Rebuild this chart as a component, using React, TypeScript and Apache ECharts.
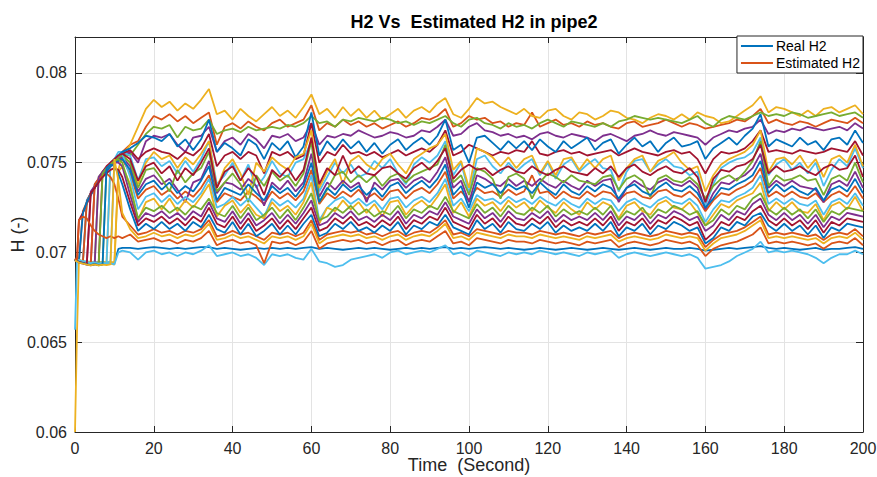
import React, { useEffect, useRef } from "react";
import * as echarts from "echarts";

// time axis (s)
const time = [0, 0.5, 1, 2, 3, 4, 5, 6, 7, 8, 9, 10, 11, 12,
  14, 16, 18, 20, 22, 24, 26, 28, 30, 32, 34, 36, 38, 40, 42, 44, 46, 48, 50, 52,
  54, 56, 58, 60, 62, 64, 66, 68, 70, 72, 74, 76, 78, 80, 82, 84, 86, 88, 90, 92,
  94, 96, 98, 100, 102, 104, 106, 108, 110, 112, 114, 116, 118, 120, 122, 124, 126, 128, 130, 132,
  134, 136, 138, 140, 142, 144, 146, 148, 150, 152, 154, 156, 158, 160, 162, 164, 166, 168, 170, 172,
  174, 176, 178, 180, 182, 184, 186, 188, 190, 192, 194, 196, 198, 200];

// H values in units of 1e-5, lines listed from top level to bottom level
const h01 = [6965,6960,6955,6950,6946,6950,6942,6948,6945,6940,6948,6945,7460,7540,
  7600,7700,7800,7850,7810,7840,7790,7830,7800,7850,
  7910,7770,7790,7740,7800,7760,7730,7770,7810,7760,
  7790,7750,7810,7880,7770,7800,7750,7810,7760,7800,
  7750,7790,7740,7770,7800,7750,7790,7810,7780,7830,
  7860,7770,7750,7800,7860,7830,7840,7810,7790,7770,
  7800,7760,7750,7790,7800,7760,7740,7780,7770,7740,
  7760,7790,7780,7750,7740,7720,7750,7770,7760,7740,
  7770,7740,7780,7760,7750,7720,7730,7760,7790,7820,
  7870,7780,7810,7800,7780,7760,7790,7760,7800,7810,
  7780,7800,7820,7770];
const h02 = [6968,6962,6958,7230,7280,7330,7360,7400,7430,7460,7500,7520,7540,7560,
  7600,7620,7700,7760,7740,7770,7730,7760,7720,7750,
  7780,7600,7700,7720,7690,7730,7700,7680,7720,7740,
  7700,7720,7740,7820,7680,7720,7700,7740,7710,7730,
  7700,7720,7690,7710,7730,7700,7720,7750,7740,7760,
  7800,7700,7720,7760,7740,7750,7720,7730,7700,7720,
  7710,7780,7700,7720,7740,7710,7720,7700,7730,7710,
  7720,7700,7690,7720,7730,7700,7710,7720,7740,7720,
  7700,7720,7710,7690,7700,7710,7720,7740,7730,7760,
  7800,7720,7740,7720,7710,7730,7720,7700,7720,7740,
  7730,7720,7750,7720];
const h03 = [6960,6955,6950,6946,6940,6944,6938,7420,7450,7470,7490,7510,7530,7550,
  7540,7600,7660,7700,7690,7710,7640,7700,7680,7690,
  7740,7660,7680,7690,7670,7700,7680,7690,7700,7690,
  7710,7700,7720,7760,7720,7730,7700,7740,7730,7750,
  7740,7730,7750,7740,7720,7730,7710,7730,7720,7740,
  7760,7720,7700,7740,7750,7720,7710,7690,7720,7700,
  7710,7690,7720,7740,7720,7700,7730,7720,7710,7700,
  7720,7700,7730,7740,7760,7750,7740,7750,7740,7730,
  7720,7740,7760,7720,7700,7740,7760,7750,7740,7760,
  7780,7760,7770,7760,7780,7770,7750,7760,7770,7780,
  7760,7770,7780,7750];
const h04 = [6958,6950,6945,6940,6935,6930,7380,7410,7440,7460,7490,7510,7530,7540,
  7560,7500,7620,7650,7640,7660,7600,7560,7640,7650,
  7700,7560,7620,7640,7600,7660,7630,7580,7650,7640,
  7660,7620,7640,7720,7600,7650,7640,7660,7650,7680,
  7660,7640,7650,7670,7660,7640,7650,7680,7670,7700,
  7740,7650,7660,7700,7720,7680,7670,7650,7660,7640,
  7650,7630,7660,7670,7650,7640,7660,7650,7640,7620,
  7650,7660,7640,7620,7650,7660,7680,7660,7650,7670,
  7660,7650,7640,7600,7640,7660,7680,7670,7690,7700,
  7740,7660,7680,7670,7690,7680,7700,7690,7680,7690,
  7700,7680,7720,7690];
const h05 = [6962,6955,6950,6944,7290,7330,7370,7400,7430,7460,7490,7520,7540,7560,
  7580,7610,7650,7640,7620,7660,7590,7630,7570,7630,
  7740,7560,7610,7580,7540,7630,7600,7520,7610,7570,
  7620,7530,7590,7780,7540,7620,7570,7630,7580,7620,
  7560,7610,7550,7600,7630,7570,7610,7640,7600,7650,
  7740,7570,7600,7500,7640,7650,7610,7570,7620,7580,
  7620,7570,7630,7590,7560,7620,7580,7610,7640,7570,
  7610,7630,7550,7600,7640,7590,7620,7560,7610,7640,
  7590,7600,7620,7520,7580,7610,7640,7600,7650,7690,
  7770,7590,7630,7610,7590,7640,7600,7620,7570,7630,
  7640,7600,7680,7610];
const h06 = [6965,6960,7180,7220,7270,7320,7360,7400,7430,7460,7480,7510,7530,7550,
  7570,7520,7560,7580,7560,7550,7520,7560,7540,7580,
  7660,7480,7540,7560,7520,7560,7540,7440,7560,7540,
  7560,7520,7540,7720,7500,7560,7540,7600,7550,7560,
  7540,7560,7530,7550,7570,7540,7560,7580,7560,7600,
  7680,7540,7560,7600,7580,7560,7540,7560,7550,7570,
  7560,7620,7550,7540,7560,7570,7550,7560,7540,7550,
  7560,7570,7540,7560,7580,7560,7550,7540,7560,7570,
  7550,7560,7520,7440,7520,7560,7550,7560,7580,7620,
  7680,7560,7570,7560,7550,7570,7560,7550,7560,7580,
  7570,7560,7620,7540];
const h07 = [6958,6952,6948,6944,6950,6942,6946,6940,6948,6944,7490,7510,7530,7540,
  7500,7380,7500,7560,7520,7540,7470,7530,7490,7550,
  7620,7360,7470,7520,7440,7320,7500,7450,7530,7490,
  7460,7530,7550,7680,7360,7450,7520,7380,7510,7540,
  7490,7460,7520,7550,7490,7440,7520,7550,7580,7600,
  7660,7460,7510,7360,7580,7560,7530,7480,7530,7470,
  7520,7540,7440,7510,7430,7520,7530,7460,7520,7470,
  7520,7540,7400,7470,7520,7540,7450,7510,7530,7560,
  7500,7460,7480,7340,7430,7490,7520,7540,7560,7600,
  7680,7450,7520,7530,7490,7540,7470,7520,7420,7520,
  7540,7500,7600,7480];
const h08 = [6960,6955,6950,6946,6952,6944,6950,6942,6948,6945,6950,7520,7560,7560,
  7540,7400,7520,7530,7480,7510,7440,7510,7450,7520,
  7620,7380,7430,7500,7400,7490,7360,7420,7510,7440,
  7420,7500,7520,7620,7340,7420,7500,7440,7490,7420,
  7440,7510,7470,7520,7440,7380,7490,7530,7500,7540,
  7620,7430,7500,7330,7520,7540,7480,7440,7500,7450,
  7490,7520,7430,7500,7410,7490,7520,7450,7490,7520,
  7470,7460,7340,7450,7510,7520,7450,7490,7520,7480,
  7470,7430,7450,7260,7380,7470,7500,7520,7530,7560,
  7640,7430,7490,7520,7460,7500,7440,7500,7370,7460,
  7520,7480,7580,7470];
const h09 = [6962,6956,6950,6945,6940,6936,6942,6938,7450,7480,7500,7520,7540,7550,
  7520,7400,7480,7500,7440,7480,7400,7470,7430,7500,
  7580,7360,7450,7480,7400,7470,7420,7320,7460,7420,
  7470,7400,7460,7640,7380,7470,7430,7540,7440,7480,
  7440,7430,7470,7480,7440,7410,7470,7500,7460,7510,
  7580,7410,7460,7490,7460,7470,7430,7460,7480,7450,
  7440,7480,7450,7430,7460,7480,7450,7440,7430,7470,
  7440,7480,7420,7470,7490,7450,7430,7460,7480,7450,
  7440,7470,7420,7280,7410,7460,7450,7480,7490,7520,
  7600,7440,7480,7450,7460,7480,7450,7430,7470,7490,
  7460,7470,7540,7420];
const h10 = [6960,6954,6948,6942,6936,6930,6934,6928,6932,7470,7490,7510,7530,7540,
  7500,7360,7460,7470,7410,7340,7460,7390,7440,7470,
  7560,7340,7390,7440,7380,7280,7430,7370,7450,7400,
  7430,7370,7440,7620,7280,7350,7430,7450,7390,7430,
  7390,7430,7370,7420,7440,7390,7430,7450,7470,7490,
  7600,7390,7430,7320,7470,7450,7410,7300,7420,7440,
  7410,7300,7390,7440,7420,7390,7430,7400,7390,7380,
  7420,7430,7350,7410,7430,7400,7310,7410,7430,7400,
  7390,7420,7380,7300,7370,7410,7430,7400,7450,7510,
  7620,7370,7430,7400,7410,7430,7400,7410,7320,7410,
  7430,7400,7500,7390];
const h11 = [6958,6952,6946,6940,6934,7340,7370,7400,7430,7460,7480,7500,7520,7530,
  7480,7340,7410,7430,7380,7410,7350,7280,7390,7410,
  7510,7330,7390,7380,7350,7410,7370,7260,7390,7350,
  7400,7340,7390,7550,7310,7390,7350,7400,7360,7390,
  7280,7390,7350,7400,7410,7360,7400,7420,7390,7450,
  7530,7360,7400,7280,7430,7410,7380,7370,7410,7370,
  7400,7370,7410,7380,7360,7400,7370,7350,7400,7370,
  7400,7410,7280,7360,7400,7370,7350,7390,7410,7380,
  7370,7400,7360,7240,7330,7390,7380,7410,7430,7470,
  7550,7360,7400,7370,7400,7370,7360,7350,7280,7380,
  7400,7370,7450,7360];
const h12 = [6960,6955,6950,7220,7280,7320,7360,7400,7420,7450,7480,7500,7510,7520,
  7460,7320,7380,7400,7350,7390,7330,7370,7340,7400,
  7480,7290,7360,7340,7320,7380,7330,7290,7370,7330,
  7360,7310,7370,7500,7280,7360,7320,7380,7340,7370,
  7320,7360,7310,7370,7390,7330,7370,7400,7360,7410,
  7490,7320,7370,7250,7390,7360,7380,7330,7380,7350,
  7370,7330,7390,7350,7320,7380,7340,7320,7370,7340,
  7380,7360,7300,7360,7380,7340,7320,7360,7390,7350,
  7340,7370,7330,7250,7300,7360,7350,7380,7400,7430,
  7510,7330,7380,7340,7370,7340,7320,7360,7290,7350,
  7370,7340,7410,7330];
const h13 = [6962,6956,6950,6944,7280,7330,7360,7400,7430,7450,7480,7500,7510,7520,
  7440,7300,7350,7370,7320,7350,7300,7340,7310,7360,
  7430,7280,7330,7310,7290,7340,7310,7270,7340,7300,
  7330,7290,7340,7460,7270,7330,7300,7340,7310,7350,
  7300,7330,7290,7340,7350,7300,7340,7360,7330,7380,
  7450,7300,7340,7290,7360,7330,7340,7310,7350,7320,
  7340,7430,7330,7340,7300,7340,7310,7300,7340,7310,
  7340,7330,7290,7330,7340,7310,7300,7340,7350,7320,
  7310,7340,7300,7230,7290,7330,7320,7350,7370,7400,
  7470,7310,7340,7310,7340,7310,7300,7330,7280,7320,
  7340,7310,7370,7300];
const h14 = [6958,6952,6946,6940,6946,6938,6944,6936,6942,6938,7500,7520,7540,7550,
  7420,7240,7310,7330,7280,7320,7270,7310,7280,7330,
  7410,7250,7270,7310,7260,7300,7250,7200,7300,7260,
  7290,7250,7300,7430,7180,7250,7290,7310,7270,7300,
  7260,7290,7240,7300,7310,7250,7290,7310,7280,7330,
  7410,7260,7300,7230,7320,7290,7300,7270,7310,7280,
  7300,7270,7310,7280,7260,7300,7270,7250,7300,7270,
  7300,7290,7230,7280,7300,7270,7250,7290,7310,7280,
  7270,7300,7260,7170,7240,7290,7280,7310,7330,7360,
  7430,7270,7300,7270,7300,7270,7260,7290,7210,7280,
  7300,7270,7330,7260];
const h15 = [6000,6550,6960,6950,6944,6938,6944,6936,6940,6934,6938,6932,7450,7480,
  7380,7180,7280,7300,7240,7300,7230,7290,7250,7310,
  7380,7200,7260,7290,7220,7270,7210,7190,7280,7230,
  7260,7210,7280,7390,7160,7250,7230,7290,7240,7280,
  7220,7270,7200,7280,7290,7210,7260,7290,7250,7310,
  7380,7220,7280,7200,7300,7260,7280,7230,7290,7250,
  7280,7230,7290,7250,7220,7280,7240,7210,7280,7240,
  7280,7260,7190,7260,7280,7230,7210,7270,7290,7250,
  7240,7280,7220,7150,7210,7270,7250,7290,7310,7330,
  7390,7230,7280,7240,7280,7230,7220,7270,7180,7260,
  7280,7240,7310,7230];
const h16 = [6958,6952,6946,6940,6936,6930,6936,6932,7440,7470,7490,7510,7520,7500,
  7360,7190,7250,7230,7260,7220,7250,7210,7260,7240,
  7300,7220,7200,7260,7190,7250,7180,7210,7250,7190,
  7240,7180,7250,7330,7180,7200,7250,7220,7260,7210,
  7240,7200,7230,7210,7260,7190,7240,7220,7260,7240,
  7310,7230,7210,7190,7270,7220,7250,7200,7260,7220,
  7210,7250,7220,7260,7200,7240,7210,7230,7210,7250,
  7210,7260,7180,7230,7210,7250,7190,7240,7220,7260,
  7240,7210,7230,7150,7180,7240,7210,7260,7240,7300,
  7330,7240,7210,7250,7210,7240,7190,7240,7170,7230,
  7210,7250,7240,7230];
const h17 = [6955,6950,6944,6938,6932,6928,6934,7420,7450,7470,7490,7500,7500,7480,
  7320,7170,7220,7200,7230,7190,7220,7180,7230,7200,
  7280,7190,7170,7230,7160,7220,7150,7180,7220,7160,
  7210,7160,7220,7290,7150,7170,7220,7190,7230,7180,
  7200,7170,7210,7180,7230,7160,7210,7190,7230,7210,
  7280,7200,7180,7160,7240,7190,7220,7170,7230,7190,
  7180,7220,7190,7230,7170,7210,7180,7200,7180,7220,
  7180,7230,7150,7200,7180,7220,7160,7210,7190,7230,
  7210,7180,7200,7120,7150,7210,7180,7230,7210,7270,
  7300,7210,7180,7220,7180,7210,7160,7210,7140,7200,
  7180,7220,7210,7200];
const h18 = [6960,6954,6948,6942,6936,7330,7360,7390,7420,7440,7460,7470,7460,7420,
  7280,7150,7190,7170,7200,7160,7190,7150,7200,7170,
  7250,7160,7140,7200,7130,7190,7120,7150,7190,7130,
  7180,7130,7190,7250,7120,7140,7190,7160,7200,7150,
  7170,7140,7180,7150,7200,7130,7180,7160,7200,7180,
  7250,7170,7150,7130,7210,7160,7190,7140,7200,7160,
  7150,7190,7160,7200,7140,7180,7150,7170,7150,7190,
  7150,7200,7120,7170,7150,7190,7130,7180,7160,7200,
  7180,7150,7170,7070,7110,7170,7150,7200,7180,7230,
  7260,7180,7150,7190,7150,7180,7130,7180,7110,7170,
  7150,7190,7180,7170];
const h19 = [6958,6952,6946,6940,6934,6930,6936,6930,6934,7470,7490,7480,7440,7380,
  7240,7120,7160,7130,7170,7130,7160,7120,7170,7140,
  7210,7130,7110,7170,7100,7160,7090,7120,7160,7100,
  7150,7100,7160,7210,7090,7110,7160,7130,7170,7120,
  7140,7110,7150,7120,7170,7100,7150,7130,7170,7150,
  7210,7140,7120,7100,7180,7130,7160,7110,7170,7130,
  7120,7160,7130,7170,7110,7150,7120,7140,7120,7160,
  7120,7170,7090,7140,7120,7160,7100,7150,7130,7170,
  7150,7120,7140,7050,7080,7140,7120,7170,7150,7200,
  7220,7150,7120,7160,7120,7150,7100,7150,7080,7140,
  7120,7160,7150,7140];
const h20 = [6962,6956,6950,6944,6938,6932,7380,7410,7430,7440,7420,7380,7300,7200,
  7150,7100,7110,7130,7110,7120,7100,7120,7110,7130,
  7180,7090,7100,7120,7100,7110,7090,7070,7110,7100,
  7110,7090,7110,7180,7070,7100,7110,7120,7110,7120,
  7100,7110,7090,7110,7120,7090,7110,7120,7110,7140,
  7180,7100,7110,7090,7130,7120,7110,7100,7120,7110,
  7110,7100,7120,7110,7100,7110,7100,7090,7110,7100,
  7110,7120,7080,7100,7110,7100,7090,7100,7120,7110,
  7100,7110,7100,7030,7070,7100,7110,7120,7140,7170,
  7200,7100,7110,7100,7110,7100,7090,7100,7070,7100,
  7110,7100,7130,7090];
const h21 = [6956,6950,6944,6938,6932,6928,6934,6928,6932,6930,6934,7520,7400,7220,
  7130,7080,7090,7110,7090,7100,7080,7100,7090,7110,
  7160,7070,7080,7100,7080,7090,7070,7050,7090,7080,
  7090,7070,7090,7160,7050,7080,7090,7100,7090,7100,
  7080,7090,7070,7090,7100,7070,7090,7100,7090,7120,
  7160,7080,7090,7070,7110,7100,7090,7080,7100,7090,
  7090,7080,7100,7090,7080,7090,7080,7070,7090,7080,
  7090,7100,7060,7080,7090,7080,7070,7080,7100,7090,
  7080,7090,7080,7010,7050,7080,7090,7100,7120,7150,
  7180,7080,7090,7080,7090,7080,7070,7080,7050,7080,
  7090,7080,7110,7070];
const h22 = [6962,6958,7180,7200,7190,7150,7120,7100,7090,7080,7090,7080,7090,7080,
  7100,7060,7070,7080,7060,7070,7050,7070,7060,7080,
  7120,7040,7060,7070,7050,7060,7040,6940,7060,7050,
  7060,7040,7060,7120,7020,7050,7060,7070,7060,7070,
  7050,7060,7040,7060,7070,7040,7060,7070,7060,7090,
  7120,7050,7060,7040,7080,7070,7060,7050,7070,7060,
  7060,7050,7070,7060,7050,7060,7050,7040,7060,7050,
  7060,7070,7030,7050,7060,7050,7040,7050,7070,7060,
  7050,7060,7040,6980,7020,7040,7050,7060,7080,7100,
  7140,7050,7060,7050,7060,7050,7040,7050,7020,7050,
  7060,7050,7080,7040];
const h23 = [6570,6960,6958,6952,6946,6940,6944,6938,6942,6936,6940,6934,7000,7010,
  7000,6960,7000,7010,6990,7000,6980,7000,6990,7010,
  7040,6980,6990,7000,6980,6990,6970,6930,6990,6980,
  6990,6970,6960,7020,6950,6940,6920,6930,6960,6970,
  6980,6990,6970,7000,7010,6990,7000,7010,7000,7020,
  7040,6990,7000,6980,7010,7000,6990,6980,7000,6990,
  7000,6990,7010,7000,6990,7000,6990,6980,7000,6990,
  7000,7010,6970,6990,7000,6990,6980,6990,7000,6990,
  6980,6990,6970,6910,6920,6930,6950,6980,7000,7020,
  7060,7000,7010,7000,7010,7000,6990,6970,6940,6970,
  6990,6990,7010,6990];
const h24 = [6965,6960,6955,6950,6946,6940,6946,6940,6944,6938,6942,6940,7020,7025,
  7025,7020,7025,7030,7025,7020,7025,7020,7025,7030,
  7030,7020,7025,7020,7015,7020,7025,7020,7025,7020,
  7025,7020,7025,7030,7020,7025,7020,7015,7020,7025,
  7020,7025,7020,7015,7020,7025,7020,7025,7020,7025,
  7030,7020,7025,7020,7025,7030,7025,7020,7025,7020,
  7015,7020,7025,7020,7015,7020,7025,7020,7015,7020,
  7025,7020,7015,7020,7025,7020,7015,7020,7025,7020,
  7020,7025,7020,7010,7015,7020,7025,7020,7025,7030,
  7035,7025,7020,7025,7020,7015,7020,7025,7015,7020,
  7020,7025,7030,7020];

const BLUE = "#0072BD", ORANGE = "#D95319", YELLOW = "#EDB120", PURPLE = "#7E2F8E",
  GREEN = "#77AC30", LBLUE = "#4DBEEE", DRED = "#A2142F";

// plotting order (MATLAB colour order)
const lines: { name: string; color: string; values: number[] }[] = [
  { name: "Real H2", color: BLUE, values: h24 },
  { name: "Estimated H2", color: ORANGE, values: h02 },
  { name: "H2 #3", color: YELLOW, values: h01 },
  { name: "H2 #4", color: PURPLE, values: h04 },
  { name: "H2 #5", color: GREEN, values: h03 },
  { name: "H2 #6", color: LBLUE, values: h08 },
  { name: "H2 #7", color: DRED, values: h06 },
  { name: "H2 #8", color: BLUE, values: h05 },
  { name: "H2 #9", color: ORANGE, values: h13 },
  { name: "H2 #10", color: YELLOW, values: h07 },
  { name: "H2 #11", color: PURPLE, values: h11 },
  { name: "H2 #12", color: GREEN, values: h10 },
  { name: "H2 #13", color: LBLUE, values: h14 },
  { name: "H2 #14", color: DRED, values: h09 },
  { name: "H2 #15", color: BLUE, values: h12 },
  { name: "H2 #16", color: ORANGE, values: h20 },
  { name: "H2 #17", color: YELLOW, values: h15 },
  { name: "H2 #18", color: PURPLE, values: h17 },
  { name: "H2 #19", color: GREEN, values: h16 },
  { name: "H2 #20", color: LBLUE, values: h23 },
  { name: "H2 #21", color: DRED, values: h18 },
  { name: "H2 #22", color: BLUE, values: h19 },
  { name: "H2 #23", color: ORANGE, values: h22 },
  { name: "H2 #24", color: YELLOW, values: h21 },
];

const FONT = "Liberation Sans, Arial, Helvetica, sans-serif";
const AX = "#262626";

export default function App() {
  const ref = useRef<HTMLDivElement>(null);
  useEffect(() => {
    document.body.style.margin = "0";
    if (!ref.current) return;
    const chart = echarts.init(ref.current, undefined, { renderer: "svg" });
    const fmt = (v: number) => String(Number(v.toFixed(3)));
    chart.setOption({
      animation: false,
      textStyle: { fontFamily: FONT },
      title: {
        text: "H2 Vs  Estimated H2 in pipe2",
        left: 469,
        textAlign: "center",
        top: 8,
        textStyle: { fontSize: 18, fontWeight: "bold", color: "#000", fontFamily: FONT },
      },
      legend: {
        data: ["Real H2", "Estimated H2"],
        orient: "vertical",
        right: 14,
        top: 36,
        icon: "rect",
        itemWidth: 32,
        itemHeight: 2,
        itemGap: 3,
        padding: [3, 3, 3, 4],
        backgroundColor: "#fff",
        borderColor: AX,
        borderWidth: 1,
        borderRadius: 0,
        textStyle: { fontSize: 14, color: "#000", fontFamily: FONT, padding: [0, 0, 0, -2] },
      },
      grid: { left: 75, right: 14, top: 37, bottom: 45, containLabel: false, outerBoundsMode: "none" },
      xAxis: [
        {
          type: "value", min: 0, max: 200, interval: 20,
          name: "Time  (Second)", nameLocation: "middle", nameGap: 24, nameMoveOverlap: false,
          nameTextStyle: { fontSize: 18, color: AX, fontFamily: FONT },
          axisLine: { show: true, lineStyle: { color: AX, width: 1 } },
          axisTick: { show: true, inside: true, length: 6, lineStyle: { color: AX } },
          axisLabel: { fontSize: 16, color: AX, margin: 8, fontFamily: FONT },
          splitLine: { show: true, lineStyle: { color: "#e3e3e3", width: 1 } },
        },
        {
          type: "value", min: 0, max: 200, interval: 20, position: "top",
          axisLine: { show: true, onZero: false, lineStyle: { color: AX, width: 1 } },
          axisTick: { show: true, inside: true, length: 6, lineStyle: { color: AX } },
          axisLabel: { show: false },
          splitLine: { show: false },
        },
      ],
      yAxis: [
        {
          type: "value", min: 0.06, max: 0.082, interval: 0.005,
          name: "H (-)", nameLocation: "middle", nameGap: 48, nameRotate: 90, nameMoveOverlap: false,
          nameTextStyle: { fontSize: 18, color: AX, fontFamily: FONT },
          axisLine: { show: true, lineStyle: { color: AX, width: 1 } },
          axisTick: { show: true, inside: true, length: 7, lineStyle: { color: AX } },
          axisLabel: { fontSize: 16, color: AX, margin: 8, fontFamily: FONT, formatter: fmt, showMaxLabel: false },
          splitLine: { show: true, lineStyle: { color: "#e3e3e3", width: 1 } },
        },
        {
          type: "value", min: 0.06, max: 0.082, interval: 0.005, position: "right",
          axisLine: { show: true, onZero: false, lineStyle: { color: AX, width: 1 } },
          axisTick: { show: true, inside: true, length: 7, lineStyle: { color: AX } },
          axisLabel: { show: false },
          splitLine: { show: false },
        },
      ],
      series: lines.map((l) => ({
        name: l.name,
        type: "line",
        xAxisIndex: 0,
        yAxisIndex: 0,
        showSymbol: false,
        symbol: "none",
        color: l.color,
        lineStyle: { color: l.color, width: 1.8 },
        emphasis: { disabled: true },
        data: time.map((t, k) => [t, l.values[k] / 1e5]),
      })),
    });
    return () => chart.dispose();
  }, []);
  return <div ref={ref} style={{ width: 877, height: 477 }} />;
}
